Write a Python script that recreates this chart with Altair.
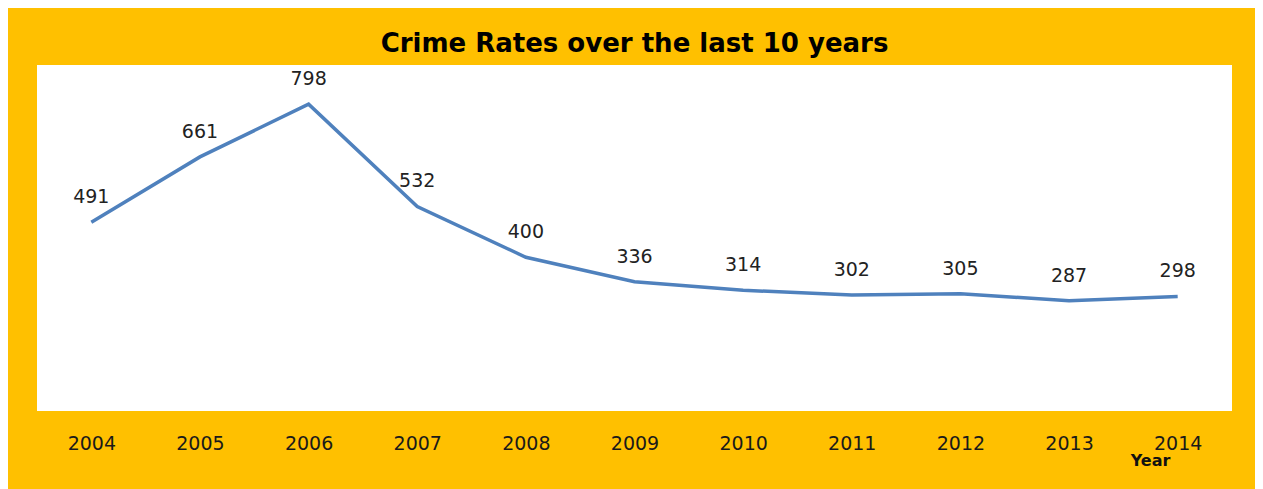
import altair as alt
import pandas as pd

years = ["2004", "2005", "2006", "2007", "2008", "2009", "2010", "2011", "2012", "2013", "2014"]
rates = [491, 661, 798, 532, 400, 336, 314, 302, 305, 287, 298]

df = pd.DataFrame({"Year": years, "Rate": rates})

x = alt.X("Year:O", sort=years,
          scale=alt.Scale(paddingInner=0, paddingOuter=0.5),
          axis=alt.Axis(title="Year", labelAngle=0, domain=False, ticks=False, grid=False,
                        labelFont="DejaVu Sans", labelFontSize=19, labelColor="#1a1a1a",
                        labelPadding=32, labelBaseline="middle",
                        titleFont="DejaVu Sans", titleFontSize=16, titleFontWeight="bold",
                        titleColor="#111111", titleX=1113, titleY=49, titleAlign="center",
                        titleBaseline="middle"))
y = alt.Y("Rate:Q", scale=alt.Scale(domain=[0, 900]), axis=None)

line = alt.Chart(df).mark_line(color="#4F81BD", strokeWidth=3.5).encode(x=x, y=y)
labels = alt.Chart(df).mark_text(dy=-25, font="DejaVu Sans", fontSize=19, color="#222222").encode(
    x=x, y=y, text="Rate:Q")

chart = (line + labels).properties(
    width=1195, height=346,
    title=alt.TitleParams("Crime Rates over the last 10 years", font="DejaVu Sans",
                          fontSize=26, fontWeight="bold", color="#000000",
                          anchor="middle", baseline="alphabetic", offset=13, dy=26),
    autosize=alt.AutoSizeParams(type="none"),
    padding={"left": 29, "top": 57, "right": 23, "bottom": 78},
    background="#FFC000",
).configure_view(fill="#FFFFFF", stroke=None)

chart.save("out.html", embed_options={"renderer": "svg", "actions": False})
